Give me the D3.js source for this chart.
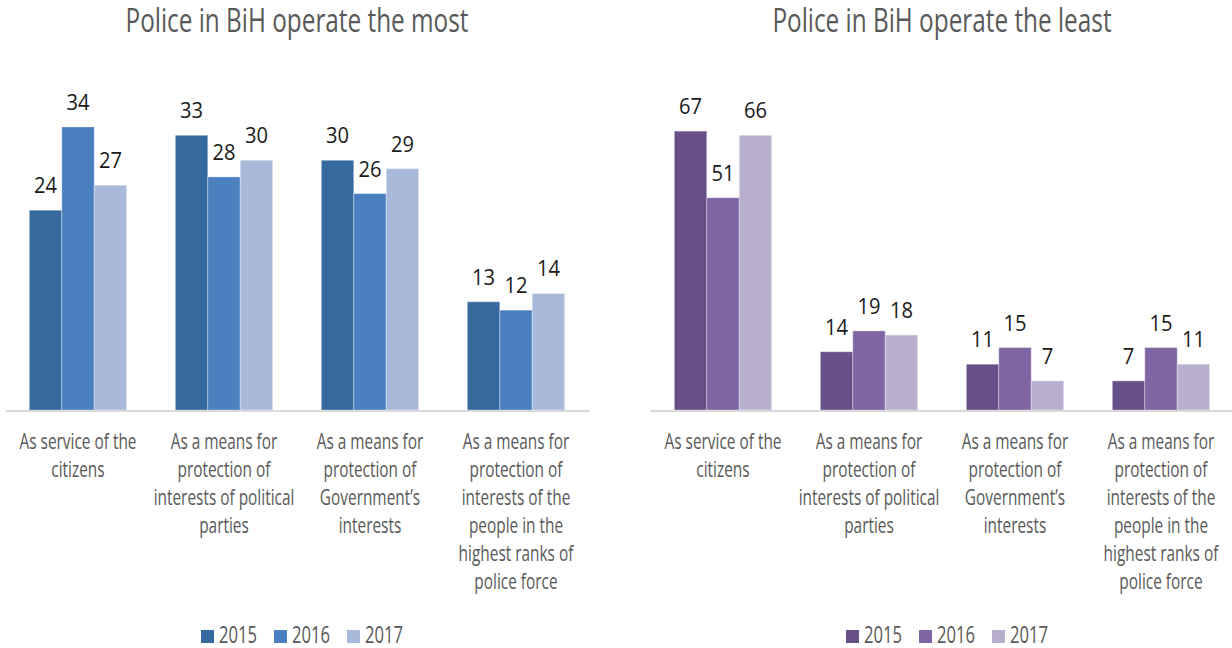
<!DOCTYPE html>
<html>
<head>
<meta charset="utf-8">
<script src="https://cdn.jsdelivr.net/npm/d3@7"></script>
<style>
  html, body { margin: 0; padding: 0; background: #fff; }
  svg { display: block; }
  text { font-family: "Open Sans", "Noto Sans", "DejaVu Sans", sans-serif; }
</style>
</head>
<body>
<svg id="chart" width="1232" height="648"></svg>
<script>
// Categories (wrapped as shown under each group)
const categories = [
  "As service of the citizens",
  "As a means for protection of interests of political parties",
  "As a means for protection of Government’s interests",
  "As a means for protection of interests of the people in the highest ranks of police force"
];
const categoryLines = [
  ["As service of the", "citizens"],
  ["As a means for", "protection of", "interests of political", "parties"],
  ["As a means for", "protection of", "Government’s", "interests"],
  ["As a means for", "protection of", "interests of the", "people in the", "highest ranks of", "police force"]
];
const years = ["2015", "2016", "2017"];

// "Police in BiH operate the most" (%)
const most2015 = [24, 33, 30, 13];
const most2016 = [34, 28, 26, 12];
const most2017 = [27, 30, 29, 14];

// "Police in BiH operate the least" (%)
const least2015 = [67, 14, 11, 7];
const least2016 = [51, 19, 15, 15];
const least2017 = [66, 18, 7, 11];

const blueColors = ["#36699D", "#4A7FC0", "#A9B9D9"];
const purpleColors = ["#674F87", "#7F65A3", "#B7AFCB"];

const svg = d3.select("#chart");

// The chart uses a condensed face; narrow the installed sans so that a
// sample string reaches the wanted width.
function squeezeFor(sample, size, wantedWidth) {
  const t = svg.append("text").style("font-size", size + "px").text(sample);
  const w = t.node().getComputedTextLength();
  t.remove();
  return wantedWidth / w;
}
const fonts = {
  title: { size: 32, sx: squeezeFor("Police in BiH operate the most", 32, 343) },
  cat:   { size: 21, sx: squeezeFor("As service of the", 21, 117) },
  value: { size: 21, sx: squeezeFor("34", 21, 23) },
  legend:{ size: 23, sx: squeezeFor("2015", 23, 38) }
};

// Append one condensed text line; returns its drawn width.
function placeText(parent, kind, x, y, str, anchor, fill) {
  const f = fonts[kind];
  const t = parent.append("text")
    .attr("x", x).attr("y", y)
    .attr("text-anchor", anchor)
    .attr("fill", fill)
    .style("font-size", f.size + "px")
    .text(str);
  const w = t.node().getComputedTextLength() * f.sx;
  t.attr("textLength", w).attr("lengthAdjust", "spacingAndGlyphs");
  return w;
}

function drawPanel(opts) {
  const { title, series, colors, x0, x1, yMax } = opts;
  const g = svg.append("g");
  const baseY = 410, topY = 77;

  const x = d3.scaleBand().domain(categories).range([x0, x1])
    .paddingInner(1 / 3).paddingOuter(1 / 6);
  const xYear = d3.scaleBand().domain(years).range([0, x.bandwidth()]);
  const y = d3.scaleLinear().domain([0, yMax]).range([baseY, topY]);

  // title
  placeText(g, "title", (x0 + x1) / 2, 32, title, "middle", "#595959");

  // bars
  const rows = [];
  categories.forEach((c, ci) => {
    years.forEach((yr, yi) => rows.push({ c, yr, yi, v: series[yi][ci] }));
  });

  g.append("g").selectAll("rect").data(rows).join("rect")
    .attr("x", d => x(d.c) + xYear(d.yr))
    .attr("y", d => y(d.v))
    .attr("width", xYear.bandwidth())
    .attr("height", d => baseY - y(d.v))
    .attr("fill", d => colors[d.yi])
    .attr("stroke", "rgba(255,255,255,0.35)")
    .attr("stroke-width", 1);

  // value labels
  const vl = g.append("g");
  rows.forEach(d => {
    placeText(vl, "value", x(d.c) + xYear(d.yr) + xYear.bandwidth() / 2,
      y(d.v) - 17, String(d.v), "middle", "#1a1a1a");
  });

  // baseline axis
  const axis = g.append("g")
    .attr("transform", `translate(0,${baseY + 0.5})`)
    .call(d3.axisBottom(x).tickSize(0).tickFormat("").tickSizeOuter(0));
  axis.select(".domain").attr("stroke", "#D9D9D9").attr("stroke-width", 2);

  // category labels
  const cl = g.append("g");
  categories.forEach((c, ci) => {
    categoryLines[ci].forEach((line, li) => {
      placeText(cl, "cat", x(c) + x.bandwidth() / 2, 449 + li * 28, line, "middle", "#595959");
    });
  });

  // legend
  const lg = g.append("g");
  const gap = 17;
  let cx = 0;
  years.forEach((yr, i) => {
    const item = lg.append("g").attr("transform", `translate(${cx},0)`);
    item.append("rect")
      .attr("width", 13).attr("height", 13)
      .attr("y", 630)
      .attr("fill", colors[i]);
    const w = placeText(item, "legend", 18, 643, yr, "start", "#595959");
    cx += 18 + w + gap;
  });
  const totalW = cx - gap;
  lg.attr("transform", `translate(${(x0 + x1) / 2 + 5 - totalW / 2},0)`);
}

drawPanel({
  title: "Police in BiH operate the most",
  series: [most2015, most2016, most2017],
  colors: blueColors,
  x0: 5, x1: 589, yMax: 40
});

drawPanel({
  title: "Police in BiH operate the least",
  series: [least2015, least2016, least2017],
  colors: purpleColors,
  x0: 650, x1: 1234, yMax: 80
});
</script>
</body>
</html>
